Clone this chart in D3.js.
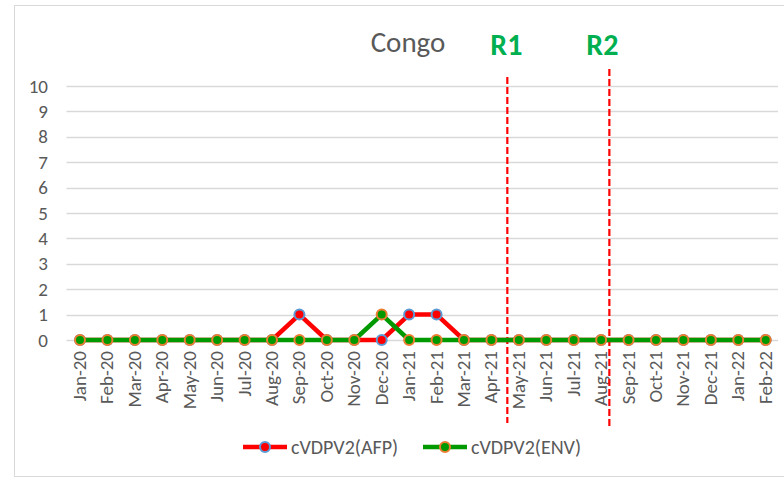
<!DOCTYPE html>
<html><head><meta charset="utf-8">
<script src="https://cdn.jsdelivr.net/npm/d3@7"></script>
<style>body{margin:0;background:#fff}svg{display:block}</style>
</head><body>
<svg id="c" width="784" height="478"></svg>
<script>
const months = ["Jan-20","Feb-20","Mar-20","Apr-20","May-20","Jun-20","Jul-20","Aug-20","Sep-20","Oct-20","Nov-20","Dec-20","Jan-21","Feb-21","Mar-21","Apr-21","May-21","Jun-21","Jul-21","Aug-21","Sep-21","Oct-21","Nov-21","Dec-21","Jan-22","Feb-22"];
const afp = [0,0,0,0,0,0,0,0,1,0,0,0,1,1,0,0,0,0,0,0,0,0,0,0,0,0];
const env = [0,0,0,0,0,0,0,0,0,0,0,1,0,0,0,0,0,0,0,0,0,0,0,0,0,0];
const yTicks = [0,1,2,3,4,5,6,7,8,9,10];
const rounds = ["R1","R2"];
const roundAfter = ["Apr-21","Aug-21"]; // line falls between this month and the next
const roundFrac = [0.58, 0.3];
const title = "Congo";
const seriesNames = ["cVDPV2(AFP)","cVDPV2(ENV)"];

const svg = d3.select("#c");
const font = "Carlito, Calibri, Lato, sans-serif";
svg.append("rect").attr("x",14.5).attr("y",5.5).attr("width",790).attr("height",471).attr("fill","#fff").attr("stroke","#d9d9d9");

const x = d3.scalePoint().domain(months).range([80,765.7]);
const step = x.step();
const y = d3.scaleLinear().domain([0,10]).range([340,86]);

// grid
svg.append("g").selectAll("line").data(yTicks).join("line")
  .attr("x1",66.5).attr("x2",778).attr("y1",d=>Math.round(y(d))+0.5).attr("y2",d=>Math.round(y(d))+0.5)
  .attr("stroke","#d9d9d9").attr("stroke-width",1.5);

// y axis
const ya = svg.append("g").attr("transform","translate(66,0)").call(d3.axisLeft(y).tickValues(yTicks).tickSize(0).tickPadding(18));
ya.select(".domain").remove();
ya.selectAll("text").attr("font-family",font).attr("font-size",19).attr("fill","#595959");

// x axis labels
svg.append("g").selectAll("text").data(months).join("text")
  .attr("transform",d=>`translate(${x(d)+6},351) rotate(-90)`)
  .attr("text-anchor","end").attr("font-family",font).attr("font-size",19).attr("fill","#595959").text(d=>d);

// round lines
const rTop = [77,69], rBot = [423,427], rLabelShift = [-1,-7];
rounds.forEach((r,i)=>{
  const xx = x(roundAfter[i]) + roundFrac[i]*step;
  svg.append("line").attr("x1",xx).attr("x2",xx).attr("y1",rTop[i]).attr("y2",rBot[i])
    .attr("stroke","#ff0000").attr("stroke-width",2.2).attr("stroke-dasharray","7,3");
  svg.append("text").attr("x",xx+rLabelShift[i]).attr("y",55).attr("text-anchor","middle")
    .attr("font-family",font).attr("font-weight","bold").attr("font-size",30).attr("fill","#00B050").text(r);
});

// title
svg.append("text").attr("x",408).attr("y",52).attr("text-anchor","middle")
  .attr("font-family",font).attr("font-size",29).attr("fill","#595959").text(title);

// series
const series = [
  {vals:afp, line:"#ff0000", fill:"#ff0000", ring:"#5B9BD5"},
  {vals:env, line:"#009900", fill:"#009900", ring:"#ED7D31"}
];
const lg = d3.line().x((d,i)=>x(months[i])).y(d=>y(d));
series.forEach(s=>{
  svg.append("path").datum(s.vals).attr("d",lg).attr("fill","none").attr("stroke",s.line).attr("stroke-width",4.5).attr("stroke-linejoin","round");
  svg.append("g").selectAll("circle").data(s.vals).join("circle")
    .attr("cx",(d,i)=>x(months[i])).attr("cy",d=>y(d)).attr("r",5)
    .attr("fill",s.fill).attr("stroke",s.ring).attr("stroke-width",2);
});

// legend
const legX = [243,423];
series.forEach((s,i)=>{
  const g = svg.append("g");
  g.append("line").attr("x1",legX[i]).attr("x2",legX[i]+44).attr("y1",447).attr("y2",447).attr("stroke",s.line).attr("stroke-width",4.5);
  g.append("circle").attr("cx",legX[i]+22).attr("cy",447).attr("r",5).attr("fill",s.fill).attr("stroke",s.ring).attr("stroke-width",2);
  g.append("text").attr("x",legX[i]+48).attr("y",454).attr("font-family",font).attr("font-size",20).attr("fill","#595959").text(seriesNames[i]);
});
</script>
</body></html>
